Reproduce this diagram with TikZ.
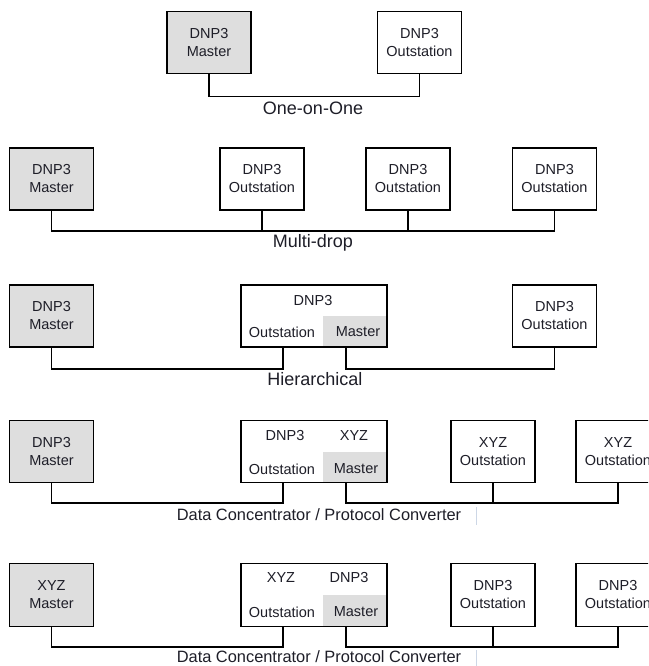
\documentclass[tikz,border=0pt]{standalone}
\usepackage{fontspec}
\setmainfont{Liberation Sans}
\usetikzlibrary{calc}
\definecolor{boxgray}{RGB}{222,222,222}
\definecolor{txt}{RGB}{30,30,40}
\definecolor{faint}{RGB}{205,215,230}
\begin{document}
\begin{tikzpicture}[x=1pt,y=-1pt,
  dev/.style={draw, line width=1.6pt, minimum width=84pt, minimum height=62pt, inner sep=0pt, align=center, font=\fontsize{14.5}{18}\selectfont, text=txt},
  mst/.style={dev, fill=boxgray},
  shade/.style={fill=boxgray, draw=none, minimum width=64pt, minimum height=32pt, inner sep=0pt},
  intext/.style={inner sep=0pt, font=\fontsize{14.5}{18}\selectfont, text=txt},
  bus/.style={line width=1.4pt},
  lbl/.style={inner sep=0pt, font=\fontsize{18}{20}\selectfont, text=txt},
  lbls/.style={inner sep=0pt, font=\fontsize{16.4}{18}\selectfont, text=txt},
  cursorline/.style={draw=faint, line width=1pt}]
\useasboundingbox (0,0) rectangle (648,666);
\clip (0,0) rectangle (648,666);
\fill[white] (0,0) rectangle (648,666);

% Row 1: One-on-One
\node[mst] (m1) at (209,42.5) {DNP3\\Master};
\node[dev] (o1) at (419.5,42.5) {DNP3\\Outstation};
\draw[bus] (m1.south) -- ++(0,22) -| (o1.south);
\node[lbl] (l1) at (313,108) {One-on-One};

% Row 2: Multi-drop
\node[mst] (m2) at (51.5,179) {DNP3\\Master};
\node[dev] (o21) at (262,179) {DNP3\\Outstation};
\node[dev] (o22) at (408,179) {DNP3\\Outstation};
\node[dev] (o23) at (554.5,179) {DNP3\\Outstation};
\coordinate (b2) at (0,231);
\draw[bus] (m2.south) |- (b2 -| o23.south) -- (o23.south);
\draw[bus] (o21.south) -- (b2 -| o21.south);
\draw[bus] (o22.south) -- (b2 -| o22.south);
\node[lbl] (l2) at (313,243) {Multi-drop};

% Row 3: Hierarchical
\node[mst] (m3) at (51.5,316) {DNP3\\Master};
\node[shade] (g3) at (355,332) {};
\node[dev, minimum width=146pt] (h3) at (314,316) {};
\node[intext] (h3t) at (313,301) {DNP3};
\node[intext] (h3o) at (282,332) {Outstation};
\node[intext] (h3m) at (358,332) {Master};
\node[dev] (o3) at (554.5,316) {DNP3\\Outstation};
\coordinate (b3) at (0,369);
\coordinate (d3a) at ($(h3.south)+(-31,0)$);
\coordinate (d3b) at ($(h3.south)+(32,0)$);
\draw[bus] (m3.south) |- (b3 -| d3a) -- (d3a);
\draw[bus] (d3b) |- (b3 -| o3.south) -- (o3.south);
\node[lbl] (l3) at (315,379) {Hierarchical};

% Row 4: Data concentrator DNP3 -> XYZ
\node[mst] (m4) at (51.5,451.5) {DNP3\\Master};
\node[shade, minimum height=31pt] (g4) at (355,467.5) {};
\node[dev, minimum width=146pt] (h4) at (314,451.5) {};
\node[intext] (h4a) at (285,436) {DNP3};
\node[intext] (h4b) at (354,436) {XYZ};
\node[intext] (h4o) at (282,469) {Outstation};
\node[intext] (h4m) at (356,469) {Master};
\node[dev] (o41) at (493,451.5) {XYZ\\Outstation};
\node[dev] (o42) at (618,451.5) {XYZ\\Outstation};
\coordinate (b4) at (0,503);
\coordinate (d4a) at ($(h4.south)+(-31,0)$);
\coordinate (d4b) at ($(h4.south)+(32,0)$);
\draw[bus] (m4.south) |- (b4 -| d4a) -- (d4a);
\draw[bus] (d4b) |- (b4 -| o42.south) -- (o42.south);
\draw[bus] (o41.south) -- (b4 -| o41.south);
\node[lbls] (l4) at (319,515) {Data Concentrator / Protocol Converter};
\coordinate (k4a) at (476,507);
\coordinate (k4b) at (476,525);
\draw[cursorline] (k4a) -- (k4b);

% Row 5: Data concentrator XYZ -> DNP3
\node[mst, minimum height=63pt] (m5) at (51.5,595) {XYZ\\Master};
\node[shade] (g5) at (355,611) {};
\node[dev, minimum width=146pt, minimum height=63pt] (h5) at (314,595) {};
\node[intext] (h5a) at (281,578) {XYZ};
\node[intext] (h5b) at (349,578) {DNP3};
\node[intext] (h5o) at (282,612) {Outstation};
\node[intext] (h5m) at (356,612) {Master};
\node[dev, minimum height=63pt] (o51) at (493,595) {DNP3\\Outstation};
\node[dev, minimum height=63pt] (o52) at (618,595) {DNP3\\Outstation};
\coordinate (b5) at (0,647);
\coordinate (d5a) at ($(h5.south)+(-31,0)$);
\coordinate (d5b) at ($(h5.south)+(32,0)$);
\draw[bus] (m5.south) |- (b5 -| d5a) -- (d5a);
\draw[bus] (d5b) |- (b5 -| o52.south) -- (o52.south);
\draw[bus] (o51.south) -- (b5 -| o51.south);
\node[lbls] (l5) at (319,657) {Data Concentrator / Protocol Converter};
\coordinate (k5a) at (476,650);
\coordinate (k5b) at (476,666);
\draw[cursorline] (k5a) -- (k5b);
\end{tikzpicture}
\end{document}
